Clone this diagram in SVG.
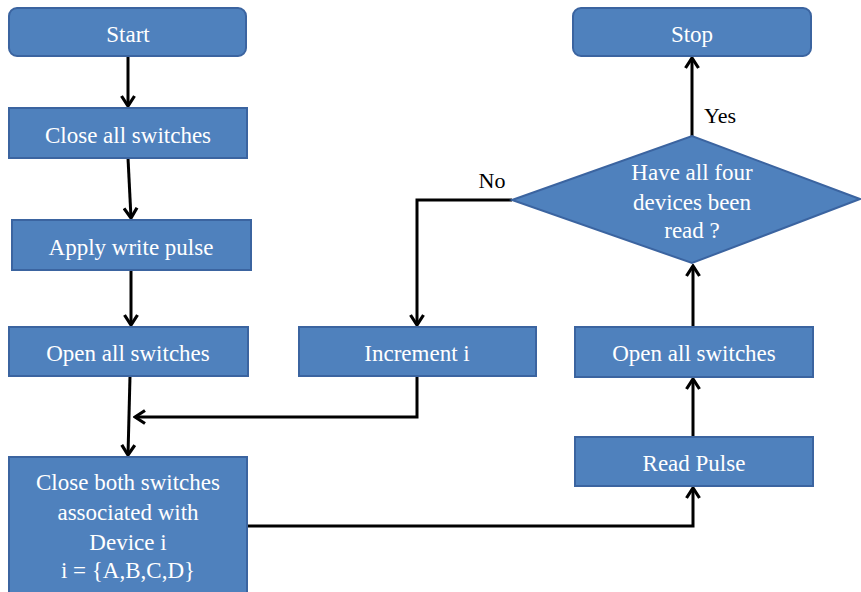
<svg xmlns="http://www.w3.org/2000/svg" width="861" height="592" viewBox="0 0 861 592">
  <style>
    .box { fill: #4f81bd; stroke: #3b64a0; stroke-width: 2; }
    .lbl { font-family: "Times New Roman", Times, "Liberation Serif", Tinos, "Noto Serif", "DejaVu Serif", serif; font-size: 23px; fill: #ffffff; text-anchor: middle; }
    .tag { font-family: "Times New Roman", Times, "Liberation Serif", Tinos, "Noto Serif", "DejaVu Serif", serif; font-size: 22px; fill: #000000; text-anchor: middle; }
    .wire { fill: none; stroke: #000000; stroke-width: 3; }
  </style>
  <defs>
    <marker id="head" viewBox="0 0 14 16" refX="12" refY="8" markerWidth="14" markerHeight="16" markerUnits="userSpaceOnUse" orient="auto">
      <path d="M2,1.5 L12,8 L2,14.5" fill="none" stroke="#000000" stroke-width="3.2"/>
    </marker>
  </defs>

  <rect width="861" height="592" fill="#ffffff"/>

  <g id="connectors">
    <path class="wire" d="M128,56 L128,106" marker-end="url(#head)"/>
    <path class="wire" d="M128,158 L131,218" marker-end="url(#head)"/>
    <path class="wire" d="M131,270 L131,325" marker-end="url(#head)"/>
    <path class="wire" d="M130,376 L128,455" marker-end="url(#head)"/>
    <path class="wire" d="M417,376 L417,417 L135,417" marker-end="url(#head)"/>
    <path class="wire" d="M247,526 L693,526 L693,488" marker-end="url(#head)"/>
    <path class="wire" d="M693,437 L693,379" marker-end="url(#head)"/>
    <path class="wire" d="M693,327 L693,266" marker-end="url(#head)"/>
    <path class="wire" d="M692,136 L692,58" marker-end="url(#head)"/>
    <path class="wire" d="M512,200 L417,200 L417,325" marker-end="url(#head)"/>
    <text class="tag" x="720" y="123">Yes</text>
    <text class="tag" x="492" y="188">No</text>
  </g>

  <g id="start">
    <rect class="box" x="9" y="8" width="237" height="48" rx="8"/>
    <text class="lbl" x="128" y="42">Start</text>
  </g>
  <g id="close-all">
    <rect class="box" x="9" y="108" width="238" height="50"/>
    <text class="lbl" x="128" y="143">Close all switches</text>
  </g>
  <g id="write-pulse">
    <rect class="box" x="12" y="220" width="239" height="50"/>
    <text class="lbl" x="131" y="255">Apply write pulse</text>
  </g>
  <g id="open-all-left">
    <rect class="box" x="9" y="327" width="239" height="49"/>
    <text class="lbl" x="128" y="361">Open all switches</text>
  </g>
  <g id="close-both">
    <rect class="box" x="9" y="457" width="238" height="140"/>
    <text class="lbl" x="128" y="490">Close both switches</text>
    <text class="lbl" x="128" y="520">associated with</text>
    <text class="lbl" x="128" y="550">Device i</text>
    <text class="lbl" x="128" y="578">i = {A,B,C,D}</text>
  </g>
  <g id="increment">
    <rect class="box" x="299" y="327" width="237" height="49"/>
    <text class="lbl" x="417" y="361">Increment i</text>
  </g>
  <g id="read-pulse">
    <rect class="box" x="575" y="437" width="238" height="49"/>
    <text class="lbl" x="694" y="471">Read Pulse</text>
  </g>
  <g id="open-all-right">
    <rect class="box" x="575" y="327" width="238" height="50"/>
    <text class="lbl" x="694" y="361">Open all switches</text>
  </g>
  <g id="decision">
    <polygon class="box" points="512,200 692,136 860,199 692,263"/>
    <text class="lbl" x="692" y="180">Have all four</text>
    <text class="lbl" x="692" y="210">devices been</text>
    <text class="lbl" x="692" y="238">read ?</text>
  </g>
  <g id="stop">
    <rect class="box" x="573" y="8" width="238" height="48" rx="8"/>
    <text class="lbl" x="692" y="42">Stop</text>
  </g>
</svg>
